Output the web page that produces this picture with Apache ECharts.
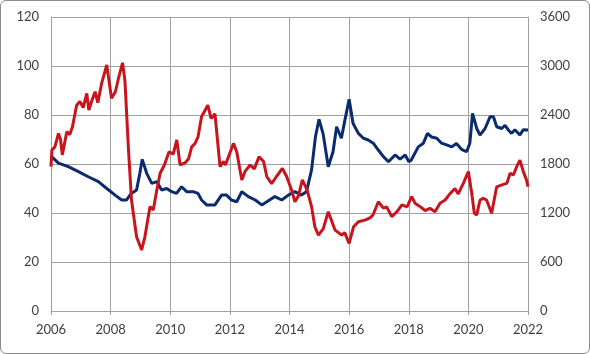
<!DOCTYPE html>
<html>
<head>
<meta charset="utf-8">
<script src="https://cdn.jsdelivr.net/npm/echarts@6/dist/echarts.min.js"></script>
<style>
  html, body { margin: 0; padding: 0; background: #fff; }
  #box {
    width: 590px; height: 354px; box-sizing: border-box;
    border: 1px solid #8c8c8c; border-radius: 6px; overflow: hidden;
  }
  #chart { width: 588px; height: 352px; }
</style>
</head>
<body>
<div id="box"><div id="chart"></div></div>
<script>
// red line, left axis
const redDates = [2006.00, 2006.03, 2006.13, 2006.25, 2006.32, 2006.38, 2006.53, 2006.63, 2006.72, 2006.86,
  2006.97, 2007.08, 2007.20, 2007.27, 2007.36, 2007.48, 2007.57, 2007.70, 2007.87, 2008.03,
  2008.16, 2008.25, 2008.40, 2008.48, 2008.60, 2008.70, 2008.87, 2009.04, 2009.15, 2009.32,
  2009.43, 2009.55, 2009.66, 2009.80, 2009.96, 2010.10, 2010.22, 2010.33, 2010.50, 2010.61,
  2010.72, 2010.83, 2010.93, 2011.05, 2011.26, 2011.37, 2011.50, 2011.67, 2011.78, 2011.85,
  2012.12, 2012.23, 2012.40, 2012.51, 2012.68, 2012.82, 2012.98, 2013.13, 2013.24, 2013.40,
  2013.57, 2013.76, 2013.90, 2014.07, 2014.18, 2014.30, 2014.43, 2014.59, 2014.74, 2014.85,
  2014.97, 2015.13, 2015.30, 2015.53, 2015.75, 2015.85, 2016.00, 2016.15, 2016.31, 2016.53,
  2016.70, 2016.80, 2016.98, 2017.15, 2017.26, 2017.43, 2017.60, 2017.77, 2017.94, 2018.10,
  2018.21, 2018.38, 2018.55, 2018.71, 2018.88, 2019.05, 2019.22, 2019.38, 2019.55, 2019.66,
  2019.83, 2020.00, 2020.11, 2020.20, 2020.28, 2020.39, 2020.50, 2020.61, 2020.78, 2020.95,
  2021.12, 2021.29, 2021.40, 2021.51, 2021.62, 2021.73, 2021.84, 2021.95, 2022.00]
const redValues = [58.9, 65.7, 67, 72.5, 70, 63.7, 73.2, 72, 75.2, 84,
  85.5, 83, 88.8, 82, 85.5, 89.5, 85, 93, 100.4, 86.8,
  89.5, 94.3, 101.3, 94, 65.7, 45.3, 30.3, 24.9, 30.3, 42.6,
  41.2, 49.4, 56.2, 59.5, 65, 64, 69.8, 59.6, 60.5, 62,
  67, 68.4, 71, 79.3, 84, 78.6, 80.5, 58.9, 61, 59.6,
  68.4, 65, 53.5, 57, 59.6, 58, 63, 61, 54.8, 52,
  55, 58.2, 55, 49.4, 44.6, 47, 53.5, 49.4, 42.6, 34.4,
  31, 33.5, 40.5, 33, 31, 32, 27.6, 34.4, 36.4, 37.1,
  38, 39.2, 44.6, 42, 42.5, 38.5, 40.5, 43.3, 42.5, 46.7,
  44, 42.6, 41, 41.9, 40.5, 44, 45.3, 47.8, 50, 47.8,
  52.1, 56.9, 48.3, 39.9, 39.2, 45.3, 46, 45.3, 39.9, 50.7,
  51.5, 52.1, 56.2, 55.5, 58.9, 61.6, 57, 53.5, 50.7]

// blue line, right axis
const blueDates = [2006.02, 2006.25, 2006.58, 2006.92, 2007.25, 2007.59, 2007.87, 2008.15, 2008.37, 2008.53,
  2008.68, 2008.87, 2008.98, 2009.06, 2009.21, 2009.38, 2009.55, 2009.71, 2009.88, 2010.05,
  2010.21, 2010.38, 2010.55, 2010.77, 2010.93, 2011.05, 2011.22, 2011.50, 2011.72, 2011.89,
  2012.05, 2012.23, 2012.40, 2012.62, 2012.85, 2013.07, 2013.24, 2013.51, 2013.74, 2013.96,
  2014.18, 2014.40, 2014.57, 2014.74, 2014.87, 2014.99, 2015.13, 2015.30, 2015.46, 2015.58,
  2015.74, 2015.86, 2016.00, 2016.13, 2016.31, 2016.47, 2016.64, 2016.81, 2016.98, 2017.15,
  2017.32, 2017.54, 2017.71, 2017.88, 2018.00, 2018.08, 2018.32, 2018.49, 2018.63, 2018.77,
  2018.94, 2019.10, 2019.27, 2019.44, 2019.60, 2019.77, 2019.94, 2020.05, 2020.14, 2020.28,
  2020.39, 2020.56, 2020.73, 2020.84, 2020.95, 2021.12, 2021.23, 2021.34, 2021.45, 2021.56,
  2021.73, 2021.84, 2022.00]
const blueValues = [1890, 1810, 1767, 1707, 1644, 1584, 1500, 1419, 1359, 1359,
  1434, 1482, 1686, 1857, 1686, 1563, 1584, 1482, 1500, 1461,
  1440, 1521, 1461, 1461, 1440, 1359, 1299, 1299, 1419, 1419,
  1359, 1338, 1461, 1401, 1359, 1299, 1338, 1401, 1359, 1419,
  1461, 1419, 1461, 1728, 2133, 2346, 2166, 1767, 1950, 2256,
  2115, 2340, 2592, 2298, 2175, 2118, 2094, 2055, 1971, 1890,
  1827, 1911, 1860, 1911, 1830, 1845, 2010, 2055, 2175, 2130,
  2115, 2055, 2034, 2010, 2052, 1980, 1950, 2055, 2421, 2235,
  2154, 2235, 2379, 2379, 2256, 2235, 2274, 2217, 2175, 2220,
  2154, 2220, 2217]

const leftTicks = [0, 20, 40, 60, 80, 100, 120]
const rightTicks = [0, 600, 1200, 1800, 2400, 3000, 3600]

const labelStyle = { color: '#404040', fontSize: 13, fontFamily: 'Lato, "Liberation Sans", sans-serif' }

const chart = echarts.init(document.getElementById('chart'))
chart.setOption({
  animation: false,
  grid: { left: 50, right: 61, top: 16, bottom: 42 },
  xAxis: {
    type: 'value',
    min: 2006,
    max: 2022,
    interval: 2,
    axisLine: { show: true, lineStyle: { color: '#a0a0a0', width: 1 } },
    axisTick: { show: true, length: 4, lineStyle: { color: '#a0a0a0' } },
    splitLine: { show: true, lineStyle: { color: '#a0a0a0', width: 1 } },
    axisLabel: Object.assign({ margin: 12, formatter: v => String(v) }, labelStyle)
  },
  yAxis: [
    {
      type: 'value',
      min: leftTicks[0],
      max: leftTicks[leftTicks.length - 1],
      interval: 20,
      axisLine: { show: true, lineStyle: { color: '#a0a0a0' } },
      axisTick: { show: false },
      splitLine: { show: true, lineStyle: { color: '#a0a0a0', width: 1 } },
      axisLabel: Object.assign({ margin: 12, formatter: v => String(v) }, labelStyle)
    },
    {
      type: 'value',
      position: 'right',
      min: rightTicks[0],
      max: rightTicks[rightTicks.length - 1],
      interval: 600,
      axisLine: { show: true, lineStyle: { color: '#a0a0a0' } },
      axisTick: { show: false },
      splitLine: { show: false },
      axisLabel: Object.assign({ margin: 12, formatter: v => String(v) }, labelStyle)
    }
  ],
  series: [
    {
      name: 'blue',
      type: 'line',
      yAxisIndex: 1,
      symbol: 'none',
      lineStyle: { color: '#0c2a6e', width: 3 },
      data: blueDates.map((d, i) => [d, blueValues[i]])
    },
    {
      name: 'red',
      type: 'line',
      yAxisIndex: 0,
      symbol: 'none',
      lineStyle: { color: '#c8141c', width: 3 },
      data: redDates.map((d, i) => [d, redValues[i]])
    }
  ]
})
</script>
</body>
</html>
